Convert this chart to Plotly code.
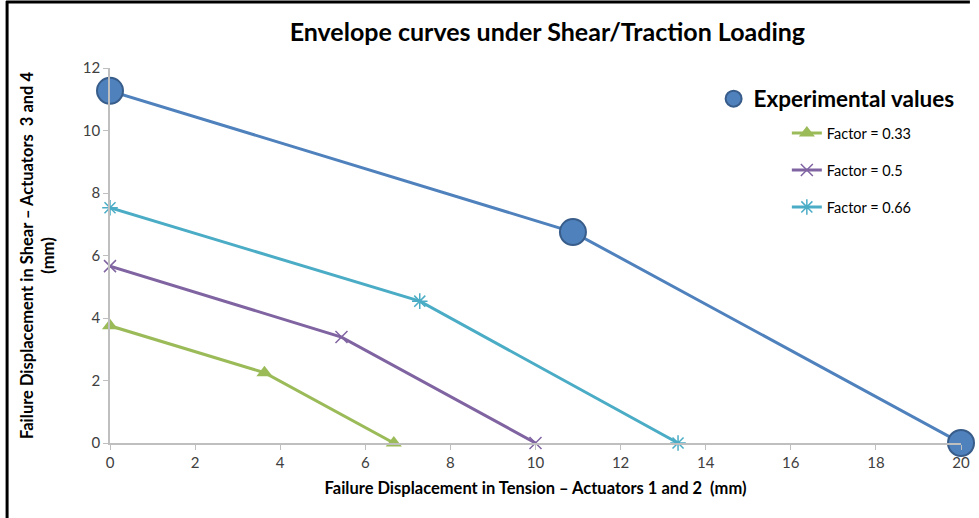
import plotly.graph_objects as go

exp_x = [0, 10.88, 20]
exp_y = [11.27, 6.75, 0]
f033_x = [0, 3.63, 6.67]
f033_y = [3.75, 2.25, 0]
f05_x = [0, 5.44, 10]
f05_y = [5.66, 3.39, 0]
f066_x = [0, 7.28, 13.35]
f066_y = [7.53, 4.54, 0]

W, H = 979, 518
L, R, T, B = 110, 9, 68, 75
pw, ph = W - L - R, H - T - B

def px2x(px):
    return (px - L) / pw

def py2y(py):
    return (H - B - py) / ph

FONT = "Lato"

fig = go.Figure()
fig.add_trace(go.Scatter(x=exp_x, y=exp_y, mode="lines", name="Experimental values",
                         line=dict(color="#4F81BD", width=3),
                         cliponaxis=False, showlegend=False))
fig.add_trace(go.Scatter(x=exp_x, y=exp_y, mode="markers", name="<b>Experimental values</b>",
                         marker=dict(symbol="circle", size=26, color="#4F81BD",
                                     line=dict(color="#385D8A", width=2)),
                         cliponaxis=False, legend="legend", showlegend=True))
fig.add_trace(go.Scatter(x=f033_x, y=f033_y, mode="lines+markers", name="Factor = 0.33",
                         line=dict(color="#9BBB59", width=3),
                         marker=dict(symbol="triangle-up", size=14, color="#9BBB59"),
                         cliponaxis=False, legend="legend2", showlegend=True))
fig.add_trace(go.Scatter(x=f05_x, y=f05_y, mode="lines+markers", name="Factor = 0.5",
                         line=dict(color="#8064A2", width=3),
                         marker=dict(symbol="x-thin-open", size=12, color="#8064A2",
                                     line=dict(color="#8064A2", width=1.5)),
                         cliponaxis=False, legend="legend3", showlegend=True))
fig.add_trace(go.Scatter(x=f066_x, y=f066_y, mode="lines+markers", name="Factor = 0.66",
                         line=dict(color="#4BACC6", width=3),
                         marker=dict(symbol="asterisk-open", size=13, color="#4BACC6",
                                     line=dict(color="#4BACC6", width=1.5)),
                         cliponaxis=False, legend="legend4", showlegend=True))

axis_common = dict(showgrid=False, zeroline=False, showline=True, linecolor="#BFBFBF", linewidth=1.5,
                   ticks="outside", tickcolor="#BFBFBF", ticklen=5, tickwidth=1,
                   tickfont=dict(family=FONT, size=15, color="#404040"), dtick=2)

fig.update_layout(
    width=W, height=H, margin=dict(l=L, r=R, t=T, b=B),
    paper_bgcolor="white", plot_bgcolor="white", showlegend=True,
    title=dict(text="<b>Envelope curves under Shear/Traction Loading</b>", x=px2x(552), xref="paper",
               xanchor="center", y=(H - 32) / H, yanchor="middle",
               font=dict(family=FONT, size=25, color="#000000")),
    xaxis=dict(range=[0, 20], **axis_common,
               title=dict(text="<b>Failure Displacement in Tension – Actuators 1 and 2  (mm)</b>",
                          font=dict(family=FONT, size=16.5, color="#000000"), standoff=13)),
    yaxis=dict(range=[0, 12], **axis_common,
               title=dict(text="<b>Failure Displacement in Shear – Actuators  3 and 4<br>(mm)</b>",
                          font=dict(family=FONT, size=16.5, color="#000000"), standoff=24)),
    legend=dict(x=px2x(720), y=py2y(99), xanchor="left", yanchor="middle", bgcolor="rgba(0,0,0,0)",
                font=dict(family=FONT, size=22.5, color="#000000"), itemsizing="trace"),
    legend2=dict(x=px2x(794), y=py2y(133), xanchor="left", yanchor="middle", bgcolor="rgba(0,0,0,0)",
                 font=dict(family=FONT, size=14.5, color="#000000")),
    legend3=dict(x=px2x(794), y=py2y(170), xanchor="left", yanchor="middle", bgcolor="rgba(0,0,0,0)",
                 font=dict(family=FONT, size=14.5, color="#000000")),
    legend4=dict(x=px2x(794), y=py2y(207), xanchor="left", yanchor="middle", bgcolor="rgba(0,0,0,0)",
                 font=dict(family=FONT, size=14.5, color="#000000")),
    shapes=[
        dict(type="line", xref="paper", yref="paper", x0=px2x(6), x1=px2x(6), y0=py2y(1), y1=py2y(518),
             line=dict(color="black", width=3)),
        dict(type="line", xref="paper", yref="paper", x0=px2x(5), x1=px2x(979), y0=py2y(2), y1=py2y(2),
             line=dict(color="black", width=3)),
    ],
)

fig.write_html("out.html")
